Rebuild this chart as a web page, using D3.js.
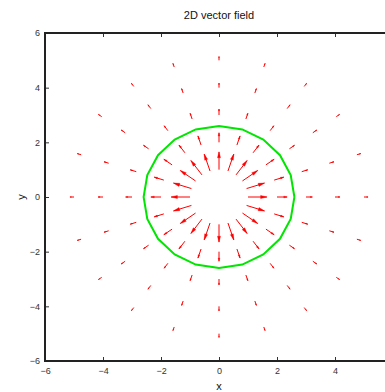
<!DOCTYPE html>
<html>
<head>
<meta charset="utf-8">
<script src="https://cdn.jsdelivr.net/npm/d3@7/dist/d3.min.js"></script>
<style>
  html, body { margin: 0; padding: 0; background: #fff; overflow: hidden; }
  svg { display: block; font-family: "Liberation Sans", Arial, sans-serif; }
  .tick text { fill: #333; font-size: 9px; }
  .tick line { stroke: #333; }
</style>
</head>
<body>
<div id="chart"></div>
<script>
'use strict';

// directions of the sample points (degrees) and the rings they sit on
var ANGLES_DEG = [0, 18, 36, 54, 72, 90, 108, 126, 144, 162,
                  180, 198, 216, 234, 252, 270, 288, 306, 324, 342];
var RADII = [1, 2, 3, 4, 5];
// arrow length on each ring (data units)
var LENGTHS = [0.65, 0.35, 0.22, 0.17, 0.14];
// green outline: polygon through these angles
var CIRCLE_ANGLES_DEG = [0, 18, 36, 54, 72, 90, 108, 126, 144, 162,
                         180, 198, 216, 234, 252, 270, 288, 306, 324, 342, 360];
var CIRCLE_RADIUS = 2.6;
var X_TICKS = [-6, -4, -2, 0, 2, 4];
var Y_TICKS = [-6, -4, -2, 0, 2, 4, 6];

var WIDTH = 385,
    HEIGHT = 392,
    LEFT = 45,
    RIGHT = 393,
    TOP = 33,
    BOTTOM = 361;

function rad(d) {
  return d * Math.PI / 180;
}

var svg = d3.select('#chart').append('svg')
  .attr('width', WIDTH)
  .attr('height', HEIGHT);

var x = d3.scaleLinear().domain([-6, 6]).range([LEFT, RIGHT]),
    y = d3.scaleLinear().domain([-6, 6]).range([BOTTOM, TOP]);

// build arrow list from rings x directions
var arrows = [];
RADII.forEach(function (r, i) {
  ANGLES_DEG.forEach(function (a) {
    var c = Math.cos(rad(a)), s = Math.sin(rad(a));
    arrows.push({
      x0: r * c, y0: r * s,
      x1: (r + LENGTHS[i]) * c, y1: (r + LENGTHS[i]) * s
    });
  });
});

var field = svg.append('g').attr('class', 'field');

field.selectAll('line.shaft')
  .data(arrows)
  .enter()
  .append('line')
  .attr('class', 'shaft')
  .attr('x1', function (d) { return x(d.x0); })
  .attr('y1', function (d) { return y(d.y0); })
  .attr('x2', function (d) { return x(d.x1); })
  .attr('y2', function (d) { return y(d.y1); })
  .attr('stroke', '#ff0000')
  .attr('stroke-width', 1);

field.selectAll('path.head')
  .data(arrows)
  .enter()
  .append('path')
  .attr('class', 'head')
  .attr('fill', '#ff0000')
  .attr('stroke', '#ff0000')
  .attr('stroke-width', 0.4)
  .attr('d', function (d) {
    var px0 = x(d.x0), py0 = y(d.y0),
        px1 = x(d.x1), py1 = y(d.y1),
        dx = px1 - px0, dy = py1 - py0,
        len = Math.sqrt(dx * dx + dy * dy),
        ux = dx / len, uy = dy / len,
        h = len * 0.33, w = len * 0.085,
        bx = px1 - ux * h, by = py1 - uy * h;
    return 'M' + px1 + ',' + py1 +
           'L' + (bx - uy * w) + ',' + (by + ux * w) +
           'L' + (bx + uy * w) + ',' + (by - ux * w) + 'Z';
  });

// green circle
svg.append('path')
  .datum(CIRCLE_ANGLES_DEG)
  .attr('fill', 'none')
  .attr('stroke', '#00e600')
  .attr('stroke-width', 2)
  .attr('d', d3.line()
    .x(function (a) { return x(CIRCLE_RADIUS * Math.cos(rad(a))); })
    .y(function (a) { return y(CIRCLE_RADIUS * Math.sin(rad(a))); }));

// axes
svg.append('g')
  .attr('transform', 'translate(0,' + BOTTOM + ')')
  .call(d3.axisBottom(x).tickValues(X_TICKS).tickSize(-4).tickSizeOuter(0).tickPadding(7))
  .call(function (g) { g.select('.domain').remove(); });

svg.append('g')
  .attr('transform', 'translate(0,' + TOP + ')')
  .call(d3.axisTop(x).tickValues(X_TICKS).tickSize(-4).tickSizeOuter(0).tickFormat(''))
  .call(function (g) { g.select('.domain').remove(); });

svg.append('g')
  .attr('transform', 'translate(' + LEFT + ',0)')
  .call(d3.axisLeft(y).tickValues(Y_TICKS).tickSize(-4).tickSizeOuter(0).tickPadding(5))
  .call(function (g) { g.select('.domain').remove(); });

svg.append('path')
  .attr('fill', 'none')
  .attr('stroke', '#222')
  .attr('stroke-width', 2)
  .attr('d', 'M' + RIGHT + ',' + TOP + 'H' + LEFT + 'V' + BOTTOM + 'H' + RIGHT);

svg.selectAll('.tick text').attr('font-size', 9);

// labels
svg.append('text')
  .attr('x', (LEFT + RIGHT) / 2)
  .attr('y', 19)
  .attr('text-anchor', 'middle')
  .attr('font-size', 11)
  .attr('fill', '#111')
  .text('2D vector field');

svg.append('text')
  .attr('x', (LEFT + RIGHT) / 2)
  .attr('y', 390)
  .attr('text-anchor', 'middle')
  .attr('font-size', 11)
  .attr('fill', '#111')
  .text('x');

svg.append('text')
  .attr('transform', 'translate(25,' + y(0) + ') rotate(-90)')
  .attr('text-anchor', 'middle')
  .attr('font-size', 11)
  .attr('fill', '#111')
  .text('y');
</script>
</body>
</html>
